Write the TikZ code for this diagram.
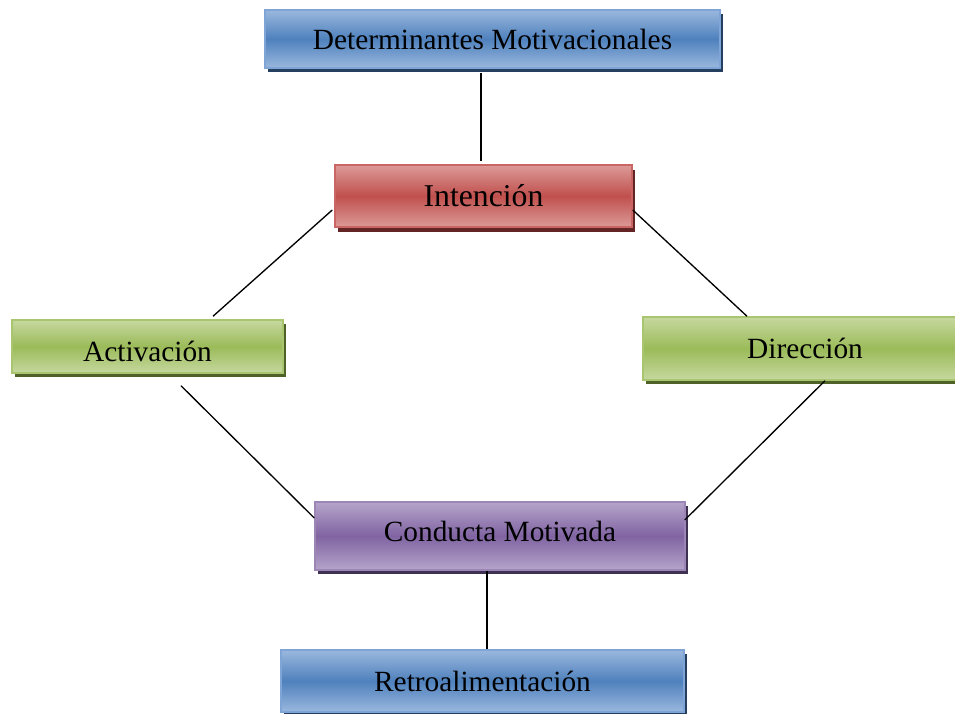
\documentclass[tikz,border=0pt]{standalone}
\usepackage{fontspec}
\setmainfont{Liberation Serif}
\usetikzlibrary{shadows,calc}
\definecolor{bluemid}{HTML}{4F81BD}
\definecolor{bluelt}{HTML}{9AB8DE}
\definecolor{blueed}{HTML}{7FA5D6}
\definecolor{bluesh}{HTML}{243F60}
\definecolor{redmid}{HTML}{C0504D}
\definecolor{redlt}{HTML}{DC9A98}
\definecolor{reded}{HTML}{C96562}
\definecolor{redsh}{HTML}{632523}
\definecolor{grnmid}{HTML}{9BBB59}
\definecolor{grnlt}{HTML}{C6D89F}
\definecolor{grned}{HTML}{A9C56F}
\definecolor{grnsh}{HTML}{4F6228}
\definecolor{purmid}{HTML}{8064A2}
\definecolor{purlt}{HTML}{B5A4CA}
\definecolor{pured}{HTML}{9B86B6}
\definecolor{pursh}{HTML}{3F3151}
\tikzset{
  x=0.75pt, y=-0.75pt,
  boxbase/.style={rectangle, inner sep=0pt, line width=1.1pt,
    font=\fontsize{22}{26}\selectfont},
  bluebox/.style={boxbase, draw=blueed, top color=bluelt, bottom color=bluelt, middle color=bluemid,
    drop shadow={shadow xshift=2.25pt, shadow yshift=-3.3pt, fill=bluesh, opacity=1}},
  redbox/.style={boxbase, draw=reded, top color=redlt, bottom color=redlt, middle color=redmid,
    drop shadow={shadow xshift=2.25pt, shadow yshift=-3.9pt, fill=redsh, opacity=1}},
  grnbox/.style={boxbase, draw=grned, top color=grnlt, bottom color=grnlt, middle color=grnmid,
    drop shadow={shadow xshift=2.25pt, shadow yshift=-3pt, fill=grnsh, opacity=1}},
  purbox/.style={boxbase, draw=pured, top color=purlt, bottom color=purlt, middle color=purmid,
    drop shadow={shadow xshift=2.25pt, shadow yshift=-3pt, fill=pursh, opacity=1}},
  link/.style={line width=1pt, black}
}
\begin{document}
\begin{tikzpicture}
\clip (0,0) rectangle (955,713);
\fill[white] (0,0) rectangle (955,713);
\node[bluebox, minimum width=341.25pt, minimum height=43.5pt] (det) at (492.5,39) {Determinantes Motivacionales};
\node[redbox, minimum width=222.75pt, minimum height=46.5pt, font=\fontsize{23.8}{28}\selectfont] (int) at (483.5,196) {Intención};
\node[grnbox, minimum width=203.25pt, minimum height=39.75pt] (act) at (147.5,346.5) {\raisebox{-3.75pt}[\height][\depth]{Activación}};
\node[grnbox, minimum width=243pt, minimum height=47.25pt] (dir) at (805,348.5) {Dirección};
\node[purbox, minimum width=277.5pt, minimum height=51pt] (cond) at (500,536) {\raisebox{3.75pt}[\height][\depth]{Conducta Motivada}};
\node[bluebox, minimum width=302.25pt, minimum height=46.5pt] (retro) at (482.5,681) {Retroalimentación};
\draw[link] ($(det.south)+(-11.5,4)$) -- ($(int.north)+(-2.5,-3)$);
\draw[link] ($(int.west)+(-2,14)$) -- ($(act.north)+(65.5,-3)$);
\draw[link] ($(int.east)+(0,14)$) -- ($(dir.north)+(-58,0)$);
\draw[link] ($(act.south)+(33.5,12)$) -- ($(cond.west)+(0,-18)$);
\draw[link] ($(dir.south)+(20,0)$) -- ($(cond.east)+(-1,-16)$);
\draw[link] ($(cond.south)+(-13,0)$) -- ($(retro.north)+(4.5,0)$);
\end{tikzpicture}
\end{document}
